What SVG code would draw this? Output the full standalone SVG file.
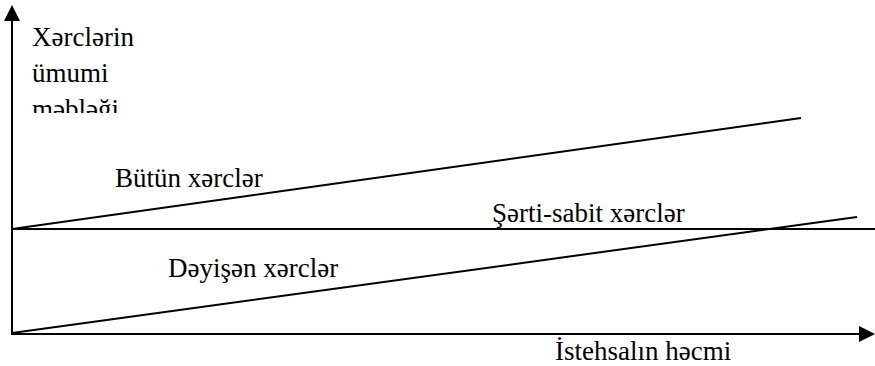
<svg xmlns="http://www.w3.org/2000/svg" width="875" height="366" viewBox="0 0 875 366">
<style>
.ln { stroke: #000; stroke-width: 2; fill: none; }
.t { font-family: "Liberation Serif", "Times New Roman", serif; font-size: 27px; fill: #000; }
</style>
<defs>
<clipPath id="ylab"><rect x="20" y="0" width="200" height="113"/></clipPath>
</defs>
<rect width="875" height="366" fill="#fff"/>
<g id="connectors">
<line class="ln" x1="12" y1="334" x2="12" y2="20"/>
<polygon points="12,5 4,21 20,21" fill="#000"/>
<line class="ln" x1="11" y1="334" x2="860" y2="334"/>
<polygon points="875,334 859,326 859,342" fill="#000"/>
<line class="ln" x1="12" y1="229" x2="875" y2="229"/>
<line class="ln" x1="12" y1="229" x2="801" y2="118"/>
<line class="ln" x1="12" y1="333" x2="857" y2="217"/>
</g>
<g id="y-label" clip-path="url(#ylab)">
<text class="t" x="32" y="46">Xərclərin</text>
<text class="t" x="32" y="82">ümumi</text>
<text class="t" x="32" y="118">məbləği</text>
</g>
<g id="total"><text class="t" x="115" y="187">Bütün xərclər</text></g>
<g id="fixed"><text class="t" x="492" y="222">Şərti-sabit xərclər</text></g>
<g id="variable"><text class="t" x="168" y="277">Dəyişən xərclər</text></g>
<g id="x-label"><text class="t" x="555" y="360">İstehsalın həcmi</text></g>
</svg>
